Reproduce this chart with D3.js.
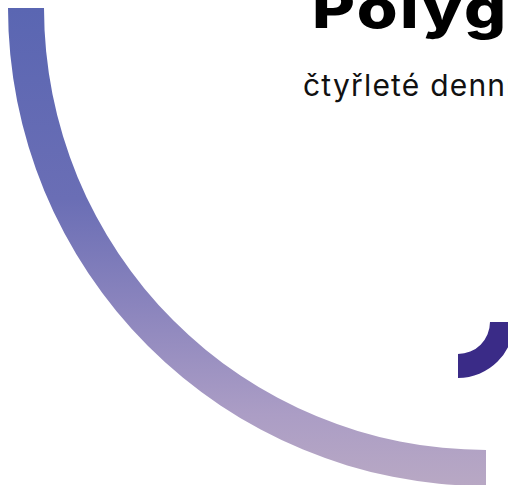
<!DOCTYPE html>
<html><head><meta charset="utf-8">
<script src="https://cdn.jsdelivr.net/npm/d3@7"></script>
<style>html,body{margin:0;padding:0;background:#fff;overflow:hidden}</style>
</head><body>
<script>
const titles = ["Polyglot", "čtyřleté denní studium"];
const arcNames = ["bigArc", "accentArc"];
const arcStart = [Math.PI, Math.PI / 2];
const arcEnd = [Math.PI * 1.5, Math.PI];
const gradientStops = ["#5a66b2", "#6a6eb5", "#8a84bd", "#ab9dc5", "#b8a8c4"];
const gradientOffsets = [0, 0.4, 0.62, 0.85, 1];

const W = 508, H = 485;
const svg = d3.select("body").append("svg").attr("width", W).attr("height", H);
const defs = svg.append("defs");

const geom = [
  {cx: 486, cy: 8, r0: 442, r1: 478, fill: "url(#g1)"},
  {cx: 458, cy: 322, r0: 32, r1: 56, fill: "#3a2b87"}
];
// gradient in the local (translated) space of the big arc
const grad = defs.append("linearGradient").attr("id", "g1")
  .attr("gradientUnits", "userSpaceOnUse")
  .attr("x1", 0).attr("y1", 0).attr("x2", 0).attr("y2", 477);
grad.selectAll("stop").data(gradientStops).join("stop")
  .attr("offset", (d, i) => gradientOffsets[i])
  .attr("stop-color", d => d);

arcNames.forEach((n, i) => {
  const g = geom[i];
  const a = d3.arc().innerRadius(g.r0).outerRadius(g.r1)
    .startAngle(arcStart[i]).endAngle(arcEnd[i]);
  svg.append("path").attr("class", n)
    .attr("transform", `translate(${g.cx},${g.cy})`)
    .attr("d", a()).attr("fill", g.fill);
});

svg.append("text").attr("transform", "translate(312,28) scale(1.2,1)")
  .attr("font-family", "Inter, 'Open Sans', sans-serif")
  .attr("font-weight", 800).attr("font-size", 55)
  .attr("letter-spacing", 2)
  .attr("fill", "#000").text(titles[0]);
svg.append("text").attr("x", 303).attr("y", 96)
  .attr("font-family", "Inter, 'Open Sans', sans-serif")
  .attr("font-weight", 400).attr("font-size", 30)
  .attr("letter-spacing", 1.2)
  .attr("fill", "#111").text(titles[1]);
</script>
</body></html>
